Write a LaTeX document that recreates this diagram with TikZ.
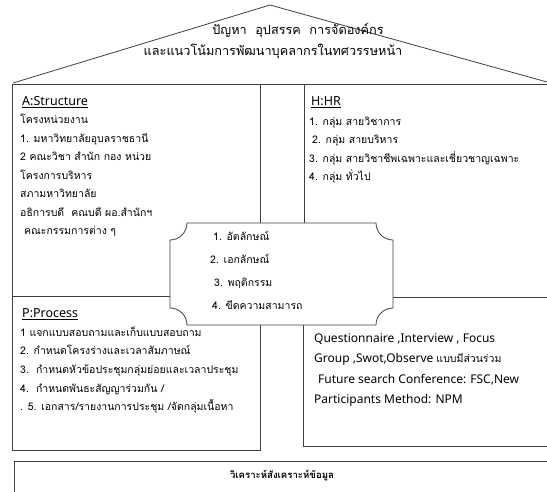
\documentclass[tikz,border=0pt]{standalone}
\usepackage{fontspec}
\setmainfont[Script=Thai]{Loma}
\newfontfamily\latinfont{Noto Sans}
\begin{document}
\begin{tikzpicture}[x=1pt, y=-1pt,
  every node/.style={font=\fontsize{10.5}{12}\selectfont, inner sep=0pt},
  frame/.style={draw=black!75, line width=0.8pt, fill=white},
  line/.style={anchor=base west},
  head/.style={anchor=base west, font=\latinfont\fontsize{12.5}{14}\selectfont},
  eng/.style={anchor=base west, font=\latinfont\fontsize{12}{14}\selectfont}]
\clip (0,0) rectangle (547,492);
% roof
\draw[black!75, line width=0.8pt] (13,83) -- (270,5) -- (547,82);
\node[anchor=base, font=\fontsize{12.7}{14}\selectfont] (roof1) at (298,35) {ปัญหา\ \ อุปสรรค\ \ การจัดองค์กร};
\node[anchor=base, font=\fontsize{12.7}{14}\selectfont] (roof2) at (273,56) {และแนวโน้มการพัฒนาบุคลากรในทศวรรษหน้า};
% boxes
\draw[frame] (260,84) rectangle (304,297);
\draw[frame] (12,84) rectangle (260,296);
\draw[frame] (304,84) rectangle (560,297);
\draw[frame] (12,296) rectangle (260,450);
\draw[frame] (303,297) rectangle (560,446);
\draw[frame] (14,461) rectangle (560,500);
% A: structure
\node[head] (a0) at (22,106) {\underline{A:Structure}};
\node[line] (a1) at (20,124) {โครงหน่วยงาน};
\node[line] (a2) at (20,142.5) {1. มหาวิทยาลัยอุบลราชธานี};
\node[line] (a3) at (20,161) {2 คณะวิชา สำนัก กอง หน่วย};
\node[line] (a4) at (20,179.5) {โครงการบริหาร};
\node[line] (a5) at (20,198) {สภามหาวิทยาลัย};
\node[line] (a6) at (20,216.5) {อธิการบดี\ \ คณบดี ผอ.สำนักฯ};
\node[line] (a7) at (24,235) {คณะกรรมการต่าง ๆ};
% H: HR
\node[head] (h0) at (311,106) {\underline{H:HR}};
\node[line] (h1) at (309,125.5) {1. กลุ่ม สายวิชาการ};
\node[line] (h2) at (312,144) {2. กลุ่ม สายบริหาร};
\node[line] (h3) at (309,162.5) {3. กลุ่ม สายวิชาชีพเฉพาะและเชี่ยวชาญเฉพาะ};
\node[line] (h4) at (309,181) {4. กลุ่ม ทั่วไป};
% P: process
\node[head] (p0) at (22,318) {\underline{P:Process}};
\node[line] (p1) at (20,336.5) {1 แจกแบบสอบถามและเก็บแบบสอบถาม};
\node[line] (p2) at (20,355) {2. กำหนดโครงร่างและเวลาสัมภาษณ์};
\node[line] (p3) at (20,373.5) {3.\ \ กำหนดหัวข้อประชุมกลุ่มย่อยและเวลาประชุม};
\node[line] (p4) at (20,392) {4.\ \ กำหนดพันธะสัญญาร่วมกัน /};
\node[line] (p5) at (20,410.5) {. 5. เอกสาร/รายงานการประชุม /จัดกลุ่มเนื้อหา};
% methods
\node[eng] (m1) at (314,342) {Questionnaire ,Interview , Focus};
\node[eng] (m2) at (314,362.5) {Group ,Swot,Observe {\rmfamily\fontsize{10.5}{12}\selectfont แบบมีส่วนร่วม}};
\node[eng] (m3) at (318,383) {Future search Conference: FSC,New};
\node[eng] (m4) at (314,403.5) {Participants Method: NPM};
% centre plaque
\draw[frame] (187,223) -- (376,223) arc[start angle=180, end angle=90, radius=17]
  -- (393,308) arc[start angle=-90, end angle=-180, radius=17]
  -- (187,325) arc[start angle=0, end angle=-90, radius=17]
  -- (170,240) arc[start angle=90, end angle=0, radius=17] -- cycle;
\node[line] (c1) at (213,240.5) {1. อัตลักษณ์};
\node[line] (c2) at (210,263.5) {2. เอกลักษณ์};
\node[line] (c3) at (214,286.5) {3. พฤติกรรม};
\node[line] (c4) at (212,309.5) {4. ขีดความสามารถ};
% analysis
\node[anchor=base, font=\bfseries\fontsize{9.6}{12}\selectfont] (an) at (282,478) {วิเคราะห์สังเคราะห์ข้อมูล};
\end{tikzpicture}
\end{document}
